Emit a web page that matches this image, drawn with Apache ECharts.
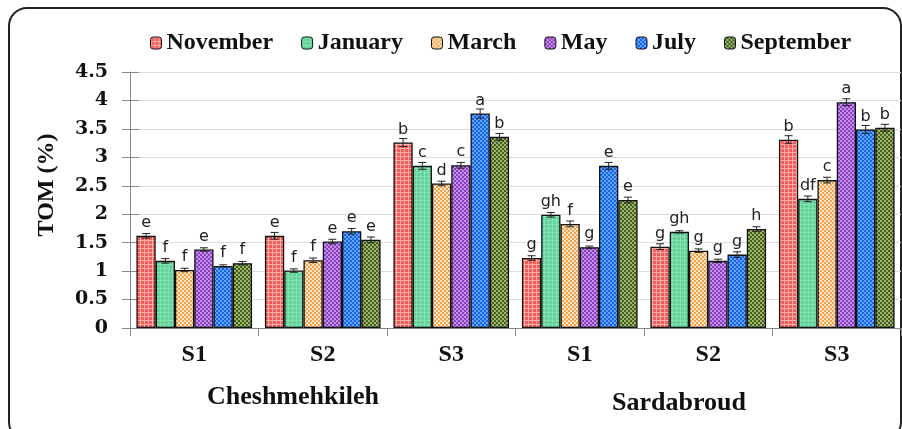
<!DOCTYPE html>
<html>
<head>
<meta charset="utf-8">
<script src="https://cdn.jsdelivr.net/npm/echarts@6/dist/echarts.min.js"></script>
<style>
  html, body { margin: 0; padding: 0; background: #fff; }
  #main { width: 902px; height: 429px; }
</style>
</head>
<body>
<div id="main"></div>
<script>
// sites within each region
var sites = ['S1', 'S2', 'S3', 'S1', 'S2', 'S3'];
var months = ['November', 'January', 'March', 'May', 'July', 'September'];
var yTicks = [0, 0.5, 1, 1.5, 2, 2.5, 3, 3.5, 4, 4.5];

// TOM (%) per month, order: Cheshmehkileh S1-S3, Sardabroud S1-S3
var november  = [1.62, 1.62, 3.26, 1.23, 1.43, 3.31];
var january   = [1.18, 1.01, 2.85, 1.99, 1.69, 2.27];
var march     = [1.02, 1.19, 2.54, 1.83, 1.36, 2.60];
var may       = [1.38, 1.52, 2.86, 1.42, 1.18, 3.97];
var july      = [1.09, 1.70, 3.77, 2.85, 1.29, 3.49];
var september = [1.14, 1.55, 3.36, 2.25, 1.74, 3.52];

// error bar half-lengths
var errNov = [0.04, 0.06, 0.07, 0.04, 0.05, 0.07];
var errJan = [0.04, 0.03, 0.06, 0.04, 0.02, 0.05];
var errMar = [0.03, 0.04, 0.04, 0.05, 0.03, 0.05];
var errMay = [0.03, 0.04, 0.05, 0.02, 0.03, 0.06];
var errJul = [0.02, 0.05, 0.08, 0.06, 0.05, 0.07];
var errSep = [0.03, 0.05, 0.06, 0.05, 0.04, 0.06];

// significance letters
var letNov = ['e', 'e', 'b', 'g', 'g', 'b'];
var letJan = ['f', 'f', 'c', 'gh', 'gh', 'df'];
var letMar = ['f', 'f', 'd', 'f', 'g', 'c'];
var letMay = ['e', 'e', 'c', 'g', 'g', 'a'];
var letJul = ['f', 'e', 'a', 'e', 'g', 'b'];
var letSep = ['f', 'e', 'b', 'e', 'h', 'b'];

var values = [november, january, march, may, july, september];
var errors = [errNov, errJan, errMar, errMay, errJul, errSep];
var letters = [letNov, letJan, letMar, letMay, letJul, letSep];

function pattern(bg, fg, kind) {
  var c = document.createElement('canvas');
  c.width = 4; c.height = 4;
  var ctx = c.getContext('2d');
  ctx.fillStyle = bg;
  ctx.fillRect(0, 0, 4, 4);
  ctx.fillStyle = fg;
  if (kind === 'grid') {
    ctx.fillRect(0, 0, 4, 1);
    ctx.fillRect(0, 0, 1, 4);
  } else if (kind === 'check') {
    ctx.fillRect(0, 0, 2, 2);
    ctx.fillRect(2, 2, 2, 2);
  }
  return { image: c, repeat: 'repeat' };
}

var fills = [
  pattern('#f45c5c', '#ffb0a8', 'grid'),
  pattern('#62d398', '#86e0b2', 'grid'),
  pattern('#f0a456', '#fde6bf', 'check'),
  pattern('#8a3fc6', '#c291e6', 'check'),
  pattern('#1b63e6', '#5fa5ff', 'check'),
  pattern('#42601f', '#9fb36a', 'check')
];

var serif = '"Liberation Serif", "Times New Roman", serif';
var wideSerif = '"DejaVu Serif", serif';
var chart = echarts.init(document.getElementById('main'));

var series = [];
months.forEach(function (m, s) {
  series.push({
    name: m,
    type: 'bar',
    data: values[s],
    barGap: '0%',
    barCategoryGap: '10%',
    itemStyle: { color: fills[s], borderColor: '#111', borderWidth: 1.3 },
    label: {
      show: true,
      position: 'top',
      distance: 5,
      color: '#222',
      fontSize: 16,
      fontFamily: '"DejaVu Sans", sans-serif',
      formatter: function (p) { return letters[s][p.dataIndex]; }
    },
    z: 2
  });
});
months.forEach(function (m, s) {
  series.push({
    type: 'custom',
    name: m + ' err',
    data: values[s].map(function (v, i) { return [i, v, errors[s][i]]; }),
    z: 5,
    silent: true,
    renderItem: function (params, api) {
      var i = api.value(0), v = api.value(1), e = api.value(2);
      var band = api.size([1, 0])[0];
      var bw = band * 0.9 / 6;
      var x = api.coord([i, v])[0] + (s - 2.5) * bw;
      var top = api.coord([i, v + e])[1];
      var bot = api.coord([i, v - e])[1];
      var st = { stroke: '#222', lineWidth: 1 };
      return {
        type: 'group',
        children: [
          { type: 'line', shape: { x1: x, y1: top, x2: x, y2: bot }, style: st },
          { type: 'line', shape: { x1: x - 4, y1: top, x2: x + 4, y2: top }, style: st },
          { type: 'line', shape: { x1: x - 4, y1: bot, x2: x + 4, y2: bot }, style: st }
        ]
      };
    }
  });
});

chart.setOption({
  animation: false,
  legend: {
    data: months,
    top: 26,
    left: 145,
    itemWidth: 11,
    itemHeight: 12,
    itemGap: 28,
    textStyle: { fontFamily: serif, fontWeight: 'bold', fontSize: 24, color: '#111' },
    itemStyle: { borderColor: '#111', borderWidth: 1 }
  },
  grid: { left: 130, right: 1, top: 72, bottom: 101 },
  xAxis: {
    type: 'category',
    data: sites,
    axisLine: { lineStyle: { color: '#888', width: 1 } },
    axisTick: { show: true, length: 8, lineStyle: { color: '#888' } },
    axisLabel: { fontFamily: serif, fontWeight: 'bold', fontSize: 24, color: '#111', margin: 15 }
  },
  yAxis: [{
    type: 'value',
    min: yTicks[0],
    max: yTicks[yTicks.length - 1],
    interval: 0.5,
    axisLine: { show: true, lineStyle: { color: '#888' } },
    axisTick: { show: true, length: 8, lineStyle: { color: '#888' } },
    axisLabel: { fontFamily: wideSerif, fontWeight: 'bold', fontSize: 19, color: '#111', margin: 22 },
    splitLine: { lineStyle: { color: '#dcdcdc' } }
  }, {
    type: 'value',
    position: 'left',
    min: yTicks[0],
    max: yTicks[yTicks.length - 1],
    interval: 0.5,
    axisLine: { show: false },
    axisTick: { show: true, inside: true, length: 9, lineStyle: { color: '#888' } },
    axisLabel: { show: false },
    splitLine: { show: false }
  }],
  graphic: [
    { type: 'rect', shape: { x: 9, y: 8, width: 892, height: 432, r: 18 },
      style: { fill: 'none', stroke: '#222', lineWidth: 2 }, silent: true },
    { type: 'text', x: 47, y: 185, rotation: Math.PI / 2,
      style: { text: 'TOM (%)', font: 'bold 24px ' + serif, fill: '#111',
               textAlign: 'center', textVerticalAlign: 'middle' } },
    { type: 'text', left: 207, top: 384,
      style: { text: 'Cheshmehkileh', font: 'bold 26px ' + serif, fill: '#111' } },
    { type: 'text', left: 612, top: 390,
      style: { text: 'Sardabroud', font: 'bold 26px ' + serif, fill: '#111' } }
  ],
  series: series
});
</script>
</body>
</html>
